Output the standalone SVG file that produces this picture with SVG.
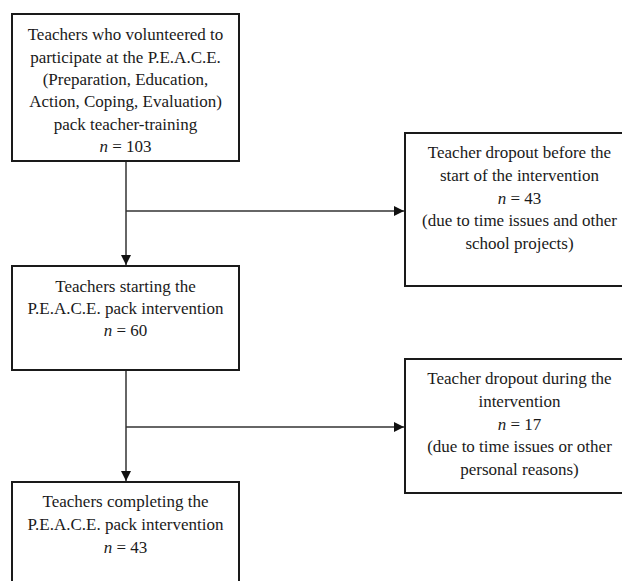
<svg xmlns="http://www.w3.org/2000/svg" width="622" height="581" viewBox="0 0 622 581">
<style>
.box{fill:#fff;stroke:#1a1a1a;stroke-width:2}
.t{font-family:"Liberation Serif","Times New Roman",serif;font-size:17px;fill:#1a1a1a;text-anchor:middle}
.i{font-style:italic}
.c{fill:none;stroke:#333;stroke-width:1.5}
</style>
<defs>
<marker id="ah" markerWidth="10" markerHeight="10" refX="10" refY="5" orient="auto" markerUnits="userSpaceOnUse">
<path d="M0,0 L10,5 L0,10 Z" fill="#111"/>
</marker>
</defs>
<rect width="622" height="581" fill="#fff"/>
<g id="connectors">
<line class="c" x1="126" y1="161" x2="126" y2="265" marker-end="url(#ah)"/>
<line class="c" x1="126" y1="211" x2="404" y2="211" marker-end="url(#ah)"/>
<line class="c" x1="126" y1="371" x2="126" y2="481" marker-end="url(#ah)"/>
<line class="c" x1="126" y1="427" x2="404" y2="427" marker-end="url(#ah)"/>
</g>
<g id="n1">
<rect class="box" x="12" y="14" width="227" height="147"/>
<text class="t" x="125.5" y="40">Teachers who volunteered to</text>
<text class="t" x="125.5" y="62.5">participate at the P.E.A.C.E.</text>
<text class="t" x="125.5" y="85">(Preparation, Education,</text>
<text class="t" x="125.5" y="107">Action, Coping, Evaluation)</text>
<text class="t" x="125.5" y="129.5">pack teacher-training</text>
<text class="t" x="125.5" y="152"><tspan class="i">n</tspan> = 103</text>
</g>
<g id="n2">
<rect class="box" x="405" y="133" width="230" height="153"/>
<text class="t" x="519.5" y="158">Teacher dropout before the</text>
<text class="t" x="519.5" y="180.5">start of the intervention</text>
<text class="t" x="519.5" y="203.5"><tspan class="i">n</tspan> = 43</text>
<text class="t" x="519.5" y="225.5">(due to time issues and other</text>
<text class="t" x="519.5" y="248.5">school projects)</text>
</g>
<g id="n3">
<rect class="box" x="12" y="266" width="227" height="104"/>
<text class="t" x="125.5" y="291.5">Teachers starting the</text>
<text class="t" x="125.5" y="313.5">P.E.A.C.E. pack intervention</text>
<text class="t" x="125.5" y="335.5"><tspan class="i">n</tspan> = 60</text>
</g>
<g id="n4">
<rect class="box" x="405" y="359" width="230" height="134"/>
<text class="t" x="519.5" y="384">Teacher dropout during the</text>
<text class="t" x="519.5" y="407">intervention</text>
<text class="t" x="519.5" y="429.5"><tspan class="i">n</tspan> = 17</text>
<text class="t" x="519.5" y="452">(due to time issues or other</text>
<text class="t" x="519.5" y="475">personal reasons)</text>
</g>
<g id="n5">
<rect class="box" x="12" y="482" width="227" height="120"/>
<text class="t" x="125.5" y="507">Teachers completing the</text>
<text class="t" x="125.5" y="529.5">P.E.A.C.E. pack intervention</text>
<text class="t" x="125.5" y="552.5"><tspan class="i">n</tspan> = 43</text>
</g>
</svg>
